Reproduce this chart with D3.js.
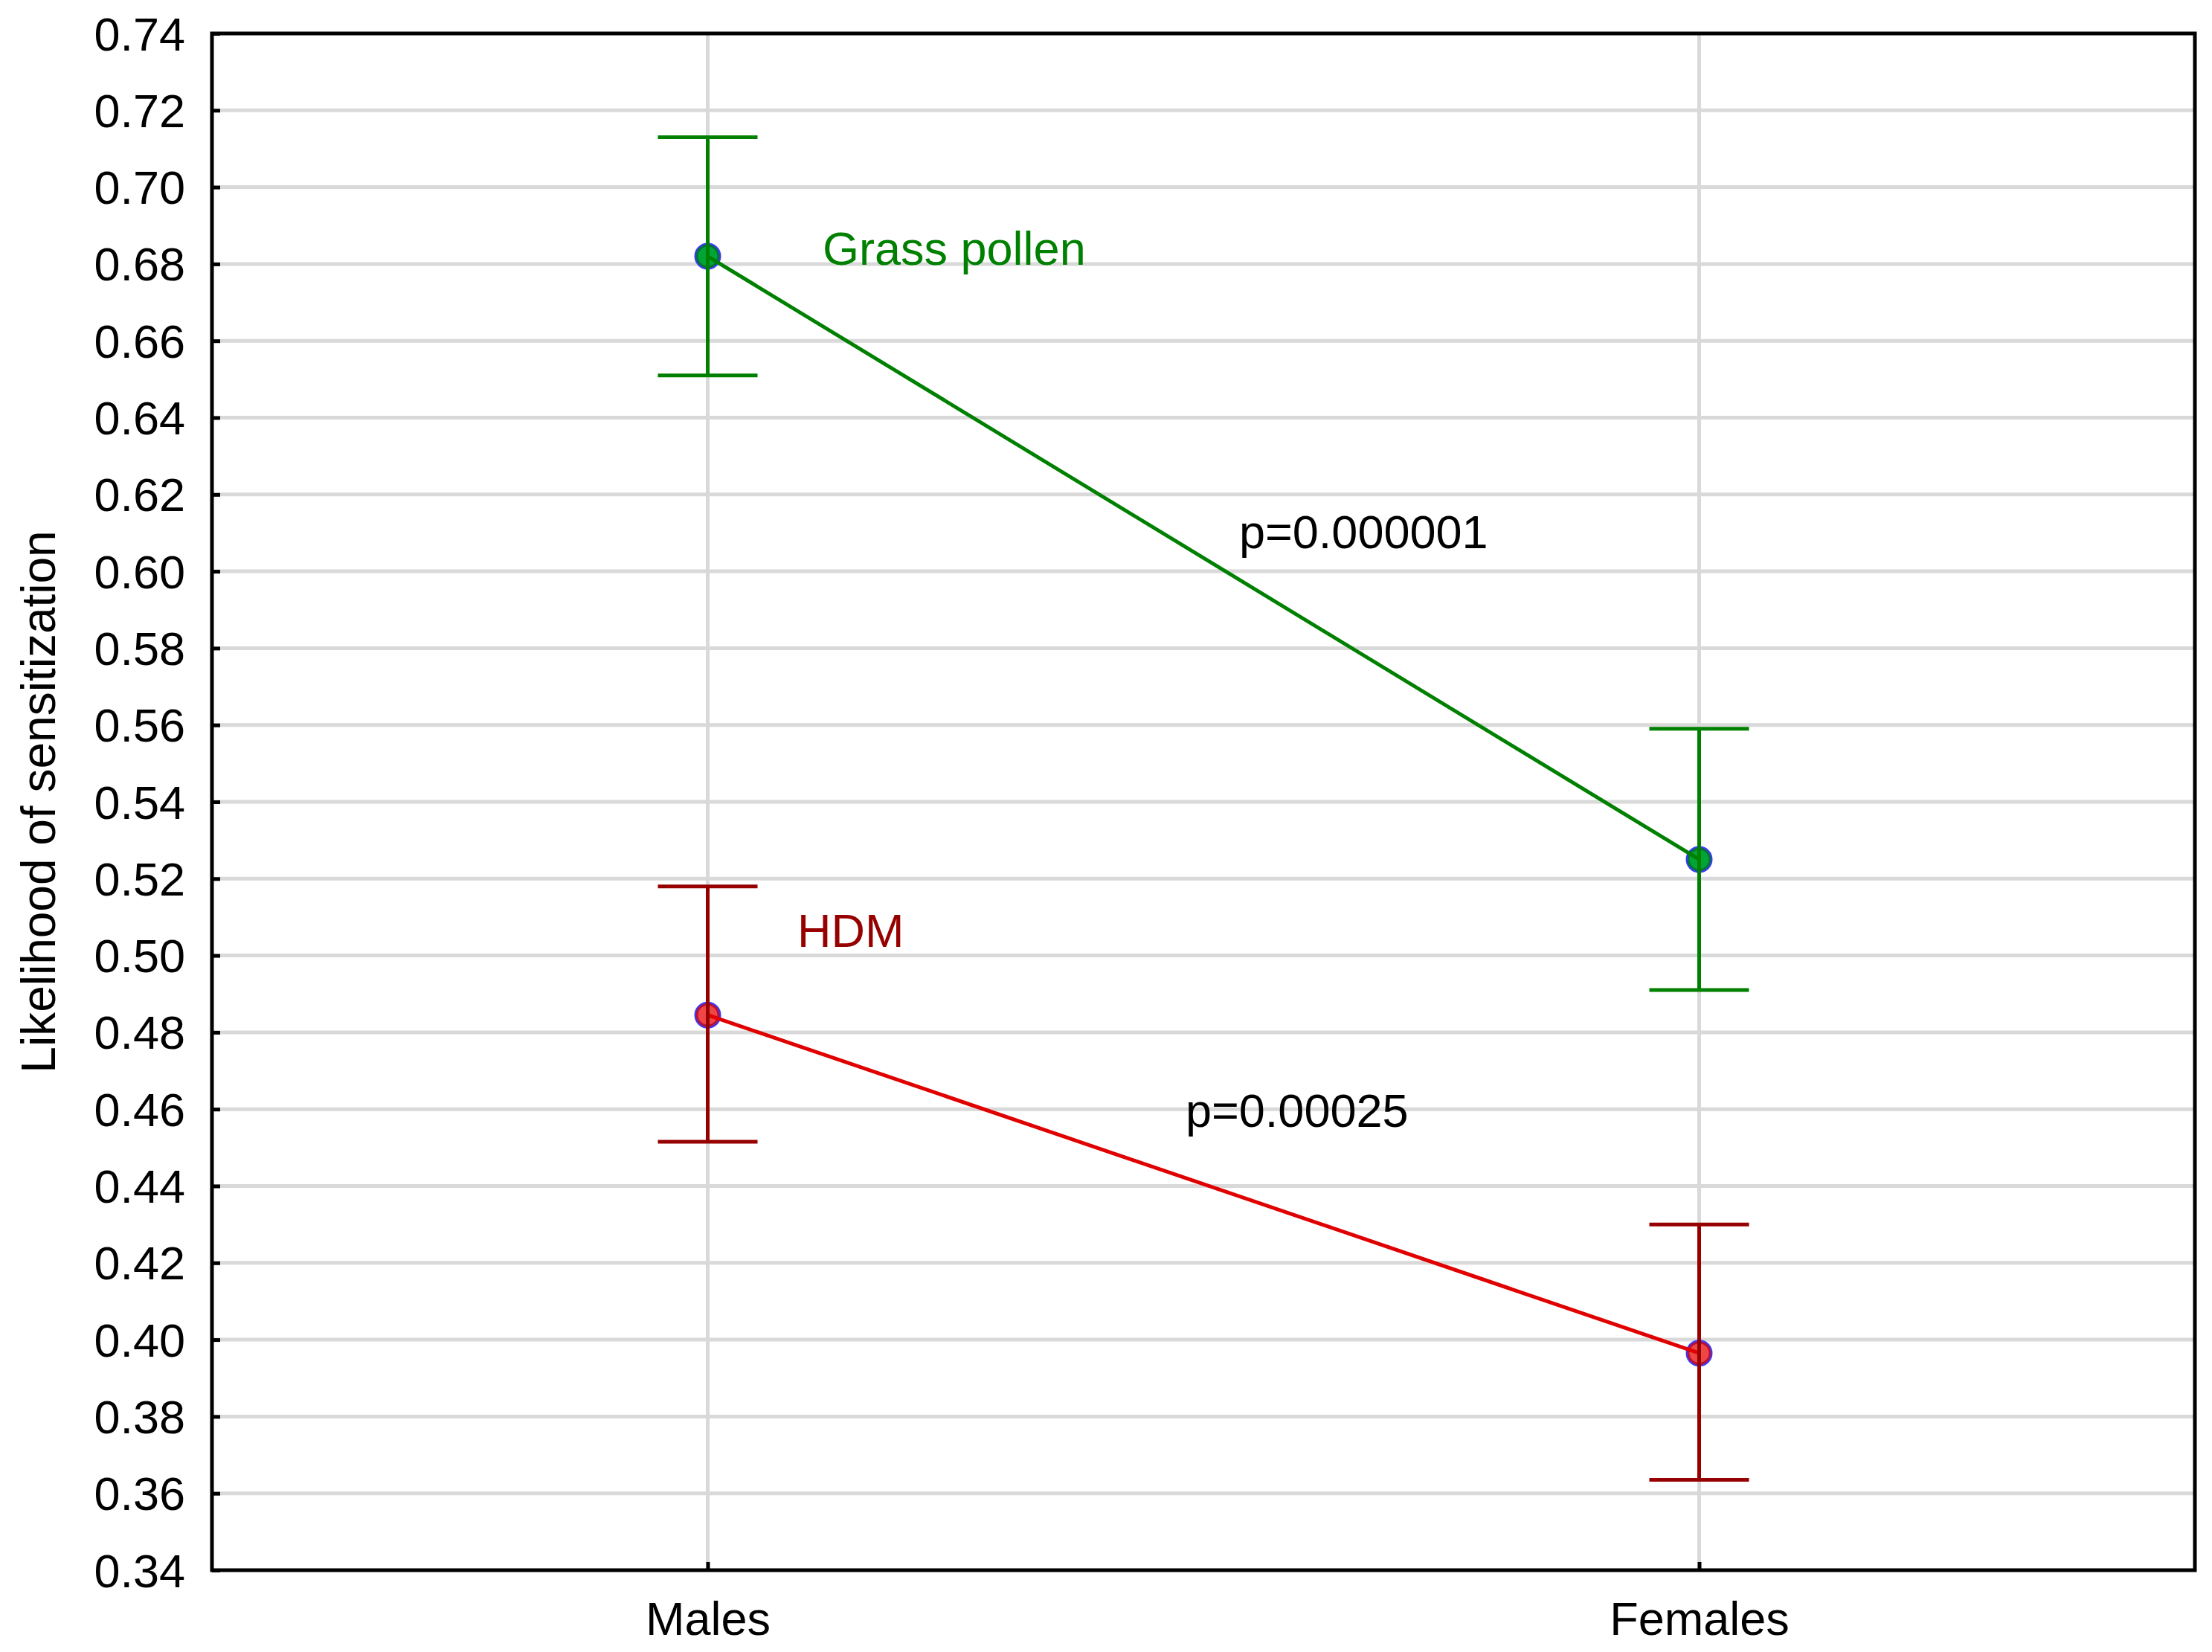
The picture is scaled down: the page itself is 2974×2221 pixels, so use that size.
<!DOCTYPE html>
<html>
<head>
<meta charset="utf-8">
<script src="https://cdn.jsdelivr.net/npm/d3@7"></script>
<style>
  body { margin: 0; background: #fff; }
  text { font-family: "Liberation Sans", Arial, sans-serif; }
</style>
</head>
<body>
<div id="chart"></div>
<script>
const categories = ["Males", "Females"];
const grassMean = [0.682, 0.525];
const grassLow = [0.651, 0.491];
const grassHigh = [0.713, 0.559];
const hdmMean = [0.4845, 0.3965];
const hdmLow = [0.4515, 0.3635];
const hdmHigh = [0.518, 0.430];
const yTicks = [0.34, 0.36, 0.38, 0.40, 0.42, 0.44, 0.46, 0.48, 0.50, 0.52, 0.54,
                0.56, 0.58, 0.60, 0.62, 0.64, 0.66, 0.68, 0.70, 0.72, 0.74];

const width = 2974, height = 2221;
const plotLeft = 285, plotRight = 2951, plotTop = 45, plotBottom = 2111;
const fontSize = 63;

const svg = d3.select('#chart').append('svg')
    .attr("width", width)
    .attr("height", height);

const x = d3.scaleLinear().domain([0.5, 2.5]).range([plotLeft, plotRight]);
const y = d3.scaleLinear().domain([0.34, 0.74]).range([plotBottom, plotTop]);
const cx = i => x(i + 1);

// grid
svg.append("g").selectAll("line")
    .data(yTicks.slice(1, -1))
    .enter().append("line")
    .attr("x1", plotLeft).attr("x2", plotRight)
    .attr("y1", d => y(d)).attr("y2", d => y(d))
    .attr("stroke", "#d9d9d9").attr("stroke-width", 5);

svg.append("g").selectAll("line")
    .data(categories)
    .enter().append("line")
    .attr("x1", (d, i) => cx(i)).attr("x2", (d, i) => cx(i))
    .attr("y1", plotTop).attr("y2", plotBottom)
    .attr("stroke", "#d9d9d9").attr("stroke-width", 5);

// axes
const yAxis = svg.append("g")
    .attr("transform", "translate(" + plotLeft + ",0)")
    .call(d3.axisLeft(y).tickValues(yTicks).tickSize(-11).tickPadding(36)
        .tickFormat(d3.format(".2f")));
yAxis.select(".domain").remove();
yAxis.selectAll(".tick line").attr("stroke", "#000").attr("stroke-width", 5);
yAxis.selectAll(".tick text")
    .attr("font-size", fontSize).attr("fill", "#000")
    .attr("dy", "0.35em");

const xAxis = svg.append("g")
    .attr("transform", "translate(0," + plotBottom + ")")
    .call(d3.axisBottom(x).tickValues([1, 2]).tickSize(-11).tickPadding(42)
        .tickFormat((d, i) => categories[i]));
xAxis.select(".domain").remove();
xAxis.selectAll(".tick line").attr("stroke", "#000").attr("stroke-width", 5);
xAxis.selectAll(".tick text")
    .attr("font-size", fontSize).attr("fill", "#000")
    .attr("dy", "0.71em");

// frame
svg.append("rect")
    .attr("x", plotLeft).attr("y", plotTop)
    .attr("width", plotRight - plotLeft).attr("height", plotBottom - plotTop)
    .attr("fill", "none").attr("stroke", "#000").attr("stroke-width", 5);

svg.append("text")
    .attr("transform", "translate(74," + (plotTop + plotBottom) / 2 + ") rotate(-90)")
    .attr("text-anchor", "middle")
    .attr("font-size", 64)
    .text("Likelihood of sensitization");

function drawSeries(mean, low, high, c) {
    const g = svg.append("g");

    g.selectAll("circle.outer")
        .data(mean)
        .enter().append("circle")
        .attr("cx", (d, i) => cx(i)).attr("cy", d => y(d))
        .attr("r", 17)
        .attr("fill", c.ring).attr("stroke", "#3a3aff").attr("stroke-width", 2);
    g.selectAll("circle.inner")
        .data(mean)
        .enter().append("circle")
        .attr("cx", (d, i) => cx(i)).attr("cy", d => y(d))
        .attr("r", 13)
        .attr("fill", c.fill);

    const line = d3.line().x((d, i) => cx(i)).y(d => y(d));
    g.append("path")
        .datum(mean)
        .attr("d", line)
        .attr("fill", "none").attr("stroke", c.line).attr("stroke-width", 5);

    const bars = g.selectAll("g.bar")
        .data(mean)
        .enter().append("g")
        .attr("stroke", c.bar).attr("stroke-width", 5);
    bars.append("line")
        .attr("x1", (d, i) => cx(i)).attr("x2", (d, i) => cx(i))
        .attr("y1", (d, i) => y(low[i])).attr("y2", (d, i) => y(high[i]));
    bars.append("line")
        .attr("x1", (d, i) => cx(i) - 67).attr("x2", (d, i) => cx(i) + 67)
        .attr("y1", (d, i) => y(high[i])).attr("y2", (d, i) => y(high[i]));
    bars.append("line")
        .attr("x1", (d, i) => cx(i) - 67).attr("x2", (d, i) => cx(i) + 67)
        .attr("y1", (d, i) => y(low[i])).attr("y2", (d, i) => y(low[i]));
}

drawSeries(grassMean, grassLow, grassHigh,
    { fill: "#00a535", ring: "#0a6e3e", line: "#008000", bar: "#008000" });
drawSeries(hdmMean, hdmLow, hdmHigh,
    { fill: "#f04545", ring: "#b3123a", line: "#e00000", bar: "#960000" });

// annotations
const notes = [
    { text: "Grass pollen", x: 1106, y: 356, color: "#008000" },
    { text: "HDM", x: 1072, y: 1273, color: "#960000" },
    { text: "p=0.000001", x: 1666, y: 737, color: "#000" },
    { text: "p=0.00025", x: 1594, y: 1515, color: "#000" }
];
svg.selectAll("text.note")
    .data(notes)
    .enter().append("text")
    .attr("class", "note")
    .attr("x", d => d.x).attr("y", d => d.y)
    .attr("font-size", fontSize)
    .attr("fill", d => d.color)
    .text(d => d.text);
</script>
</body>
</html>
